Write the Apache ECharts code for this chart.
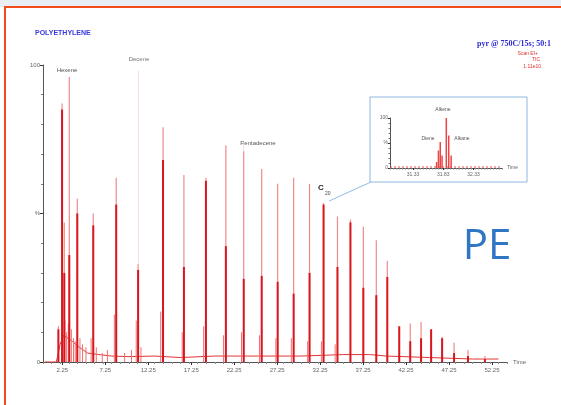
<!DOCTYPE html>
<html>
<head>
<meta charset="utf-8">
<script src="https://cdn.jsdelivr.net/npm/echarts@6/dist/echarts.min.js"></script>
<style>
html, body { margin: 0; padding: 0; background: #fff; }
#chart { width: 561px; height: 405px; }
</style>
</head>
<body>
<div id="chart"></div>
<script>
// main TIC trace, retention time (min) and % of 1.11e10
var peakTimes = [1.79, 2.22, 2.48, 3.06, 3.99, 5.85, 8.52, 11.07, 13.97, 16.40, 18.96, 21.28, 23.36, 25.45, 27.31, 29.17, 31.02, 32.65, 34.27, 35.78, 37.28, 38.79, 40.07, 41.46, 42.74, 44.00, 45.17, 46.45, 47.84, 49.46, 51.43];
var peakTops = [12, 87, 47, 96, 55, 50, 62, 33, 79, 63, 62, 73, 71, 65, 60, 62, 60, 53.5, 49, 48, 45.5, 41, 34, 12, 13, 13.5, 11, 8.5, 6.5, 4, 2];
var peakCores = [11, 85, 30, 36, 50, 46, 53, 31, 68, 32, 61, 39, 28, 29, 27, 23, 30, 53, 32, 47, 25, 22.5, 28.6, 12, 7, 8, 11, 8, 3, 2, 1];

// small side peaks and clutter near the baseline
var minorTimes = [2.55, 2.75, 2.95, 3.30, 3.55, 3.75, 4.30, 4.60, 5.00, 5.60, 6.20, 6.90, 7.50, 8.30, 9.50, 10.30, 10.85, 11.40, 13.70, 16.20, 18.70, 21.00, 23.10, 25.20, 27.10, 28.90, 30.80, 32.40, 34.00];
var minorHeights = [14, 10, 13, 11, 8, 7, 8, 6, 5, 8, 5, 3, 4, 16, 3, 4, 14, 5, 17, 10, 12, 9, 10, 9, 8, 8, 7, 7, 6];

var baseTimes = [0.2, 1.55, 1.70, 2.00, 2.40, 3.40, 4.20, 5.20, 6.50, 8.00, 10.0, 13.0, 16.0, 20.0, 25.0, 30.0, 35.0, 38.0, 40.0, 45.0, 50.0, 53.0];
var baseValues = [0, 0, 2, 6, 9, 7, 5, 3, 2.5, 2, 1.8, 2, 1.5, 2, 2, 2, 2.5, 2.5, 2, 1.5, 1, 1];

var tickLabels = [2.25, 7.25, 12.25, 17.25, 22.25, 27.25, 32.25, 37.25, 42.25, 47.25, 52.25];

// inset: zoom on the C20 cluster
var insetTimes = [31.72, 31.75, 31.78, 31.81, 31.88, 31.92, 31.96];
var insetHeights = [12, 35, 52, 25, 100, 65, 25];
var insetBaseTimes = [30.95, 31.60, 32.10, 32.80];
var insetBaseValues = [2, 2, 2, 2];
var insetLabels = [31.33, 31.83, 32.33];

function pairs(xs, ys) {
    return xs.map(function (x, i) { return [x, ys[i]]; });
}

var myChart = echarts.init(document.getElementById('chart'));
var small = { fontSize: 6, color: '#666', fontFamily: 'Liberation Sans' };

var option = {
    backgroundColor: '#fff',
    animation: false,
    grid: [
        { left: 43, top: 65, right: 54, bottom: 43 },
        { left: 390, top: 118, width: 112, height: 50 }
    ],
    xAxis: [
        {
            gridIndex: 0, type: 'value', min: 0, max: 54, position: 'bottom',
            axisLine: { lineStyle: { color: '#555', width: 1 } },
            axisTick: { customValues: tickLabels, length: 3, lineStyle: { color: '#333' } },
            axisLabel: Object.assign({ customValues: tickLabels, margin: 5, formatter: function (v) { return v.toFixed(2); } }, small),
            splitLine: { show: false },
            name: 'Time', nameLocation: 'end', nameGap: 6,
            nameTextStyle: small
        },
        {
            gridIndex: 0, type: 'value', min: 0, max: 54, interval: 1, position: 'bottom',
            axisLine: { show: false },
            axisTick: { length: 2, lineStyle: { color: '#888' } },
            axisLabel: { show: false },
            splitLine: { show: false }
        },
        { gridIndex: 0, type: 'value', min: 0, max: 54, position: 'bottom', show: false },
        {
            gridIndex: 1, type: 'value', min: 30.95, max: 32.8, position: 'bottom',
            axisLine: { lineStyle: { color: '#555' } },
            axisTick: { customValues: insetLabels, length: 2, lineStyle: { color: '#333' } },
            axisLabel: { customValues: insetLabels, margin: 4, fontSize: 5, color: '#666', formatter: function (v) { return v.toFixed(2); } },
            splitLine: { show: false },
            name: 'Time', nameLocation: 'end', nameGap: 5,
            nameTextStyle: { fontSize: 5, color: '#666' }
        },
        {
            gridIndex: 1, type: 'value', min: 30.95, max: 32.8, interval: 0.05, position: 'bottom',
            axisLine: { show: false },
            axisTick: { length: 1.5, lineStyle: { color: '#888' } },
            axisLabel: { show: false },
            splitLine: { show: false }
        }
    ],
    yAxis: [
        {
            gridIndex: 0, type: 'value', min: 0, max: 100, interval: 50,
            axisLine: { show: true, lineStyle: { color: '#555' } },
            axisTick: { show: true, length: 3, lineStyle: { color: '#333' } },
            minorTick: { show: true, splitNumber: 5, length: 2, lineStyle: { color: '#777' } },
            axisLabel: Object.assign({ margin: 3, formatter: function (v) { return v === 50 ? '%' : v; } }, small),
            splitLine: { show: false }
        },
        {
            gridIndex: 1, type: 'value', min: 0, max: 100, interval: 50,
            axisLine: { show: true, lineStyle: { color: '#555' } },
            axisTick: { show: true, length: 2, lineStyle: { color: '#333' } },
            minorTick: { show: true, splitNumber: 5, length: 1.5, lineStyle: { color: '#777' } },
            axisLabel: { margin: 2, fontSize: 5, color: '#666', formatter: function (v) { return v === 50 ? '%' : v; } },
            splitLine: { show: false }
        }
    ],
    series: [
        {
            name: 'baseline', type: 'line', xAxisIndex: 0, yAxisIndex: 0,
            data: pairs(baseTimes, baseValues),
            symbol: 'none', lineStyle: { color: '#e23434', width: 1 }, z: 1
        },
        {
            name: 'minor', type: 'bar', xAxisIndex: 2, yAxisIndex: 0,
            data: pairs(minorTimes, minorHeights),
            barWidth: 1, itemStyle: { color: '#ee7070' }
        },
        {
            name: 'peak tops', type: 'bar', xAxisIndex: 0, yAxisIndex: 0,
            data: pairs(peakTimes, peakTops),
            barWidth: 1.2, itemStyle: { color: '#f08a8a' },
            markLine: {
                silent: true, symbol: 'none', label: { show: false },
                lineStyle: { color: '#f6d0d0', width: 0.8, type: 'solid' },
                data: [
                    [{ coord: [peakTimes[7], peakTops[7]] }, { coord: [peakTimes[7], 98] }],
                    [{ coord: [peakTimes[12], peakTops[12]] }, { coord: [peakTimes[12], 74] }]
                ]
            }
        },
        {
            name: 'peak cores', type: 'bar', xAxisIndex: 1, yAxisIndex: 0,
            data: pairs(peakTimes, peakCores),
            barWidth: 2, itemStyle: { color: '#d8161e' }
        },
        {
            name: 'inset base', type: 'line', xAxisIndex: 3, yAxisIndex: 1,
            data: pairs(insetBaseTimes, insetBaseValues),
            symbol: 'none', lineStyle: { color: '#e84a4a', width: 1, type: [2, 2] }
        },
        {
            name: 'inset peaks', type: 'bar', xAxisIndex: 3, yAxisIndex: 1,
            data: pairs(insetTimes, insetHeights),
            barWidth: 1.5, itemStyle: { color: '#ea4444' }
        }
    ],
    graphic: [
        { type: 'rect', z: -10, shape: { x: 0, y: 0, width: 561, height: 7 }, style: { fill: '#e8eef4' } },
        { type: 'rect', z: 10, shape: { x: 5, y: 7, width: 600, height: 450 }, style: { fill: 'none', stroke: '#f24c1c', lineWidth: 2 } },
        { type: 'rect', z: -1, shape: { x: 370, y: 97, width: 157, height: 85 }, style: { fill: '#fff', stroke: '#8fb8e2', lineWidth: 1 } },
        { type: 'line', z: 5, shape: { x1: 329, y1: 201, x2: 371, y2: 182 }, style: { stroke: '#8fbde6', lineWidth: 1 } },
        { type: 'text', x: 35, y: 30, style: { text: 'POLYETHYLENE', fill: '#3838e0', font: 'bold 7px "Liberation Sans"' } },
        { type: 'text', x: 551, y: 40, style: { text: 'pyr @ 750C/15s; 50:1', fill: '#2c2cd0', font: 'bold 8px "Liberation Serif"', align: 'right' } },
        { type: 'text', x: 538, y: 51, style: { text: 'Scan EI+', fill: '#e03030', font: '5px "Liberation Sans"', align: 'right' } },
        { type: 'text', x: 540, y: 57, style: { text: 'TIC', fill: '#e03030', font: '5px "Liberation Sans"', align: 'right' } },
        { type: 'text', x: 541, y: 64, style: { text: '1.11e10', fill: '#e03030', font: '5px "Liberation Sans"', align: 'right' } },
        { type: 'text', x: 67, y: 67, style: { text: 'Hexene', fill: '#555', font: '6px "Liberation Sans"', align: 'center' } },
        { type: 'text', x: 139, y: 56, style: { text: 'Decene', fill: '#777', font: '6px "Liberation Sans"', align: 'center' } },
        { type: 'text', x: 258, y: 140, style: { text: 'Pentadecene', fill: '#555', font: '6px "Liberation Sans"', align: 'center' } },
        { type: 'text', x: 318, y: 184, style: { text: 'C', fill: '#222', font: 'bold 8px "Liberation Sans"' } },
        { type: 'text', x: 325, y: 191, style: { text: '20', fill: '#444', font: '5px "Liberation Sans"' } },
        { type: 'text', x: 443, y: 107, style: { text: 'Alkene', fill: '#555', font: '5px "Liberation Sans"', align: 'center' } },
        { type: 'text', x: 428, y: 136, style: { text: 'Diene', fill: '#555', font: '5px "Liberation Sans"', align: 'center' } },
        { type: 'text', x: 462, y: 136, style: { text: 'Alkane', fill: '#555', font: '5px "Liberation Sans"', align: 'center' } },
        { type: 'text', x: 487, y: 226, style: { text: 'PE', fill: '#2f76c5', font: '42px "Open Sans"', align: 'center' } }
    ]
};
myChart.setOption(option);
</script>
</body>
</html>
